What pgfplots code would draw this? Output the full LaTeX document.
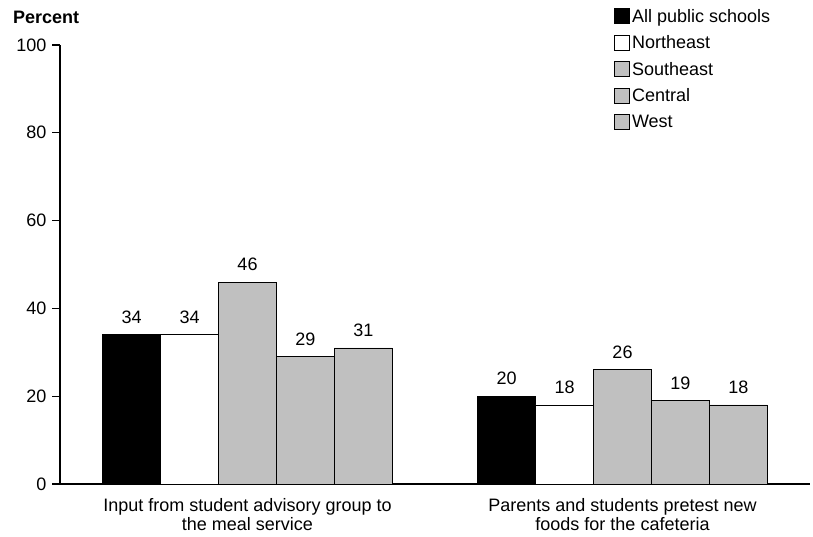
\documentclass[border=0pt]{standalone}
\usepackage{fontspec}
\setmainfont{Liberation Sans}
\usepackage{pgfplots}
\pgfplotsset{compat=1.18}
\definecolor{bargray}{RGB}{192,192,192}
\pgfplotsset{sqlegend/.style={legend image code/.code={\draw[##1, line width=0.8pt, draw=black] (0pt,-7pt) rectangle (15pt,8pt);}}}
\begin{document}
\begin{tikzpicture}[font=\fontsize{18}{19}\selectfont]
\useasboundingbox (-60pt,-53pt) rectangle (753pt,484pt);
\begin{axis}[
  at={(0pt,0pt)}, anchor=south west,
  scale only axis, width=750pt, height=439pt,
  xmin=-0.5, xmax=1.5, ymin=0, ymax=100,
  axis lines*=left,
  axis line style={line width=1.5pt},
  ytick={0,20,...,100},
  tick align=outside, major tick length=8pt,
  y tick style={line width=1.2pt, black},
  y tick label style={xshift=-2pt},
  xtick={0,1},
  xticklabels={{Input from student advisory group to\\the meal service},{Parents and students pretest new\\foods for the cafeteria}},
  x tick label style={align=center, yshift=-3pt},
  x tick style={draw=none},
  /pgf/number format/assume math mode=true,
  ybar=0pt, bar width=0.1545,
  nodes near coords,
  nodes near coords style={anchor=south, inner sep=0pt, yshift=11pt},
  legend style={at={(0.7387,1.0866)}, anchor=north west, draw=none, fill=none, inner sep=0pt, row sep=8pt, cells={anchor=west}, nodes={inner xsep=2pt}},
  clip=false,
]
\addplot[draw=black, line width=0.8pt, fill=black, sqlegend] coordinates {(0,34) (1,20)};
\addplot[draw=black, line width=0.8pt, fill=white, sqlegend] coordinates {(0,34) (1,18)};
\addplot[draw=black, line width=0.8pt, fill=bargray, sqlegend] coordinates {(0,46) (1,26)};
\addplot[draw=black, line width=0.8pt, fill=bargray, sqlegend] coordinates {(0,29) (1,19)};
\addplot[draw=black, line width=0.8pt, fill=bargray, sqlegend] coordinates {(0,31) (1,18)};
\legend{All public schools, Northeast, Southeast, Central, West}
\node[anchor=west, font=\fontsize{18}{19}\selectfont\bfseries, inner sep=0pt] at (rel axis cs:0,1) [xshift=-47pt, yshift=28pt] {Percent};
\end{axis}
\end{tikzpicture}
\end{document}
